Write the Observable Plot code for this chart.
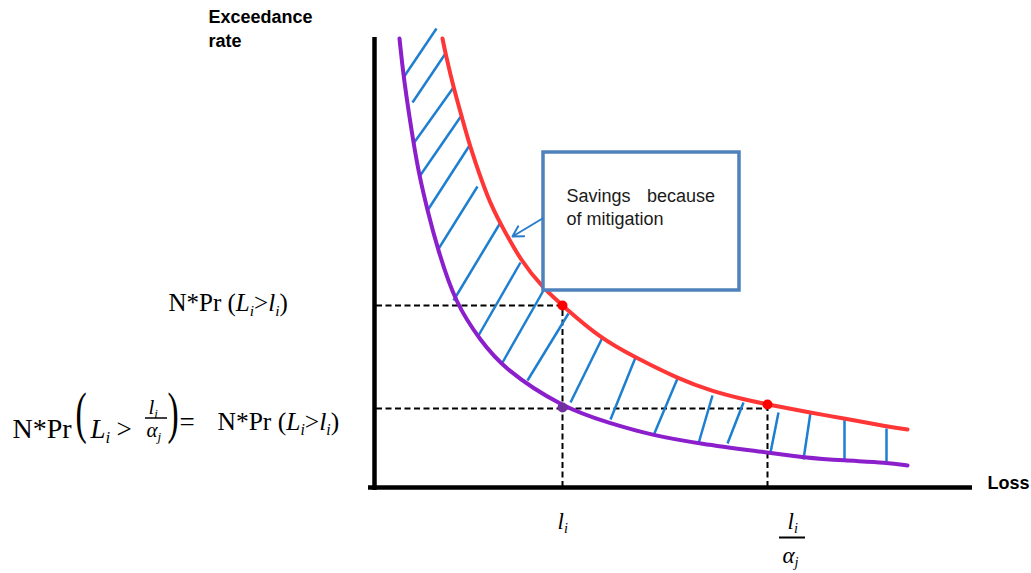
<!DOCTYPE html>
<html>
<head>
<meta charset="utf-8">
<script src="https://cdn.jsdelivr.net/npm/d3@7"></script>
<script src="https://cdn.jsdelivr.net/npm/@observablehq/plot@0.6"></script>
<style>
  html, body { margin: 0; padding: 0; background: #fff; }
  #chart { width: 1031px; height: 573px; }
</style>
</head>
<body>
<div id="chart"></div>
<script>
// Exceedance-rate curve before mitigation (red)
const redLoss = [68, 71, 79, 87, 95, 114, 126, 146, 169, 188, 226, 261, 303, 338, 370, 393, 436, 469, 513, 533];
const redRate = [449, 434, 400, 372, 342, 287, 264, 227, 199, 182, 149, 130, 109, 96, 88, 83, 75, 69, 61, 58];

// Exceedance-rate curve after mitigation (purple)
const purpleLoss = [25, 29, 39, 45, 53, 63, 81, 106, 129, 188, 236, 279, 324, 393, 429, 469, 513, 533];
const purpleRate = [449, 410, 344, 311, 277, 239, 184, 147, 119, 80, 64, 52, 44, 35, 30, 27, 25, 22];

// Hatching of the area between the two curves
const hatchLossA = [29, 38, 39, 45, 53, 63, 79, 104, 128, 153, 196, 236, 279, 324, 353, 396, 429, 470, 512];
const hatchRateA = [410, 385, 344, 311, 277, 237, 187, 152, 125, 107, 85, 68, 52, 44, 44, 35, 28, 28, 26];
const hatchLossB = [62, 71, 79, 87, 95, 103, 126, 146, 169, 194, 228, 261, 303, 338, 369, 404, 436, 470, 512];
const hatchRateB = [459, 434, 400, 372, 342, 301, 265, 225, 197, 174, 150, 130, 109, 92, 85, 75, 75, 68, 59];

// Marked loss levels l_i and l_i / alpha_j with their rates
const markLoss = [188, 393];
const markRedRate = [182, 83];
const markPurpleLoss = [188];
const markPurpleRate = [80];

// Texts ($..$ = italic, _x = subscript x)
const yTitle = "Exceedance\nrate";
const xTitle = "Loss";
const boxLines = ["Savings\u00a0\u00a0\u00a0\u200abecause", "of mitigation"];
const rateLabel = "N*Pr ($L$_i>$l$_i)";
const lossLabel = "$l$_i";
const fracTop = "$l$_i";
const fracBottom = "$α$_j";

const red = redLoss.map((x, i) => ({x, y: redRate[i]}));
const purple = purpleLoss.map((x, i) => ({x, y: purpleRate[i]}));
const hatch = hatchLossA.map((x1, i) => ({x1, y1: hatchRateA[i], x2: hatchLossB[i], y2: hatchRateB[i]}));
const redDots = markLoss.map((x, i) => ({x, y: markRedRate[i]}));
const purpleDots = markPurpleLoss.map((x, i) => ({x, y: markPurpleRate[i]}));
const box = [{x1: 169, x2: 365, y1: 197, y2: 335}];

const serif = "'Liberation Serif','Times New Roman',serif";
const sans = "'Liberation Sans',Arial,sans-serif";
const hatchBlue = "#1e7fd0";
const dash = {stroke: "black", strokeWidth: 2, strokeDasharray: "6,3.5"};

const piece = (text, x, y, size, opts = {}) =>
  Plot.text([text], {x, y, text: d => d, fontSize: size, fontFamily: serif, fill: "black",
    textAnchor: "start", lineAnchor: "bottom", ...opts});

const chart = Plot.plot({
  width: 1031,
  height: 573,
  marginLeft: 374,
  marginRight: 59,
  marginTop: 37,
  marginBottom: 86,
  x: {domain: [0, 598], axis: null},
  y: {domain: [0, 450], axis: null},
  style: {background: "#fff", fontFamily: sans, overflow: "visible"},
  marks: [
    // axes
    Plot.ruleX([0], {y1: -3, y2: 450, stroke: "black", strokeWidth: 4.5}),
    Plot.ruleY([0], {x1: -6, x2: 598, stroke: "black", strokeWidth: 4.5}),

    // dashed guides
    Plot.ruleY([markRedRate[0]], {x1: 2, x2: markLoss[0], ...dash}),
    Plot.ruleY([markPurpleRate[0] - 1], {x1: 2, x2: markLoss[1], ...dash}),
    Plot.ruleX([markLoss[0]], {y1: 0, y2: markRedRate[0], ...dash}),
    Plot.ruleX([markLoss[1]], {y1: 0, y2: markRedRate[1], ...dash}),

    // hatching
    Plot.link(hatch, {x1: "x1", y1: "y1", x2: "x2", y2: "y2", stroke: hatchBlue, strokeWidth: 2.5}),

    // curves
    Plot.line(red, {x: "x", y: "y", stroke: "#ff3636", strokeWidth: 4, curve: "basis"}),
    Plot.line(purple, {x: "x", y: "y", stroke: "#8a1fcb", strokeWidth: 4, curve: "basis"}),

    // marked points
    Plot.dot(redDots, {x: "x", y: "y", r: 5, fill: "#ff0000", stroke: "none"}),
    Plot.dot(purpleDots, {x: "x", y: "y", r: 5, fill: "#7030a0", stroke: "none"}),

    // callout box with arrow
    Plot.rect(box, {x1: "x1", x2: "x2", y1: "y1", y2: "y2", fill: "white", stroke: "#4f81bd", strokeWidth: 3.5}),
    Plot.arrow([{x1: 168, y1: 269, x2: 138, y2: 251}], {x1: "x1", y1: "y1", x2: "x2", y2: "y2",
      stroke: "#2a7dcc", strokeWidth: 2, headLength: 12}),
    Plot.text(boxLines, {x: 192, y: (d, i) => 286 - 23 * i, text: d => d, fontSize: 18, fontFamily: sans,
      fill: "#1a1a1a", textAnchor: "start", lineAnchor: "bottom"}),

    // axis titles
    Plot.text([yTitle], {x: -166, y: 441, text: d => d, fontSize: 18, fontWeight: "bold", fontFamily: sans,
      fill: "black", textAnchor: "start", lineAnchor: "bottom", lineHeight: 1.28}),
    Plot.text([xTitle], {x: 613, y: -1, text: d => d, fontSize: 18, fontWeight: "bold", fontFamily: sans,
      fill: "black", textAnchor: "start", lineAnchor: "bottom"}),

    // rate labels on the left
    piece(rateLabel, -206, 177, 25),
    piece("N*Pr", -362, 50, 28),
    piece("(", -299, 56, 56),
    piece("$L$_i", -284, 50, 27),
    piece(">", -258, 50, 27),
    piece(fracTop, -226, 74, 21),
    Plot.ruleY([69.5], {x1: -229, x2: -207, stroke: "black", strokeWidth: 1.5}),
    piece(fracBottom, -228, 51, 21),
    piece(")", -207, 56, 56),
    piece("=", -195, 57, 27),
    piece(rateLabel, -157, 58, 25.5),

    // loss labels below the axis
    piece(lossLabel, 183, -41, 23),
    piece(fracTop, 413, -41, 23),
    Plot.ruleY([-50], {x1: 405, x2: 431, stroke: "black", strokeWidth: 2}),
    piece(fracBottom, 408, -75, 23)
  ]
});

document.getElementById("chart").appendChild(chart);

// Turn $..$ (italic) and _x (subscript) markers into styled tspans;
// tall parentheses are narrowed so they stay slender
function typeset(root) {
  const ns = "http://www.w3.org/2000/svg";
  root.querySelectorAll("text").forEach(node => {
    const src = node.textContent;
    if (src === "(" || src === ")") {
      const tr = node.getAttribute("transform") || "";
      node.setAttribute("transform", tr + " scale(0.6,1)");
      return;
    }
    if (!/[$_]/.test(src)) return;
    const fs = parseFloat(getComputedStyle(node).fontSize);
    node.textContent = "";
    let italic = false, buf = "", lowered = false;
    const add = (str, sub) => {
      const t = document.createElementNS(ns, "tspan");
      if (italic || sub) t.setAttribute("font-style", "italic");
      if (sub) {
        t.setAttribute("font-size", (fs * 0.62) + "px");
        if (!lowered) { t.setAttribute("dy", fs * 0.2); lowered = true; }
      } else if (lowered) {
        t.setAttribute("dy", -fs * 0.2); lowered = false;
      }
      t.textContent = str;
      node.appendChild(t);
    };
    const flush = () => { if (buf) { add(buf, false); buf = ""; } };
    for (let k = 0; k < src.length; k++) {
      const c = src[k];
      if (c === "$") { flush(); italic = !italic; }
      else if (c === "_") { flush(); add(src[++k], true); }
      else buf += c;
    }
    flush();
  });
}
typeset(chart);
</script>
</body>
</html>
